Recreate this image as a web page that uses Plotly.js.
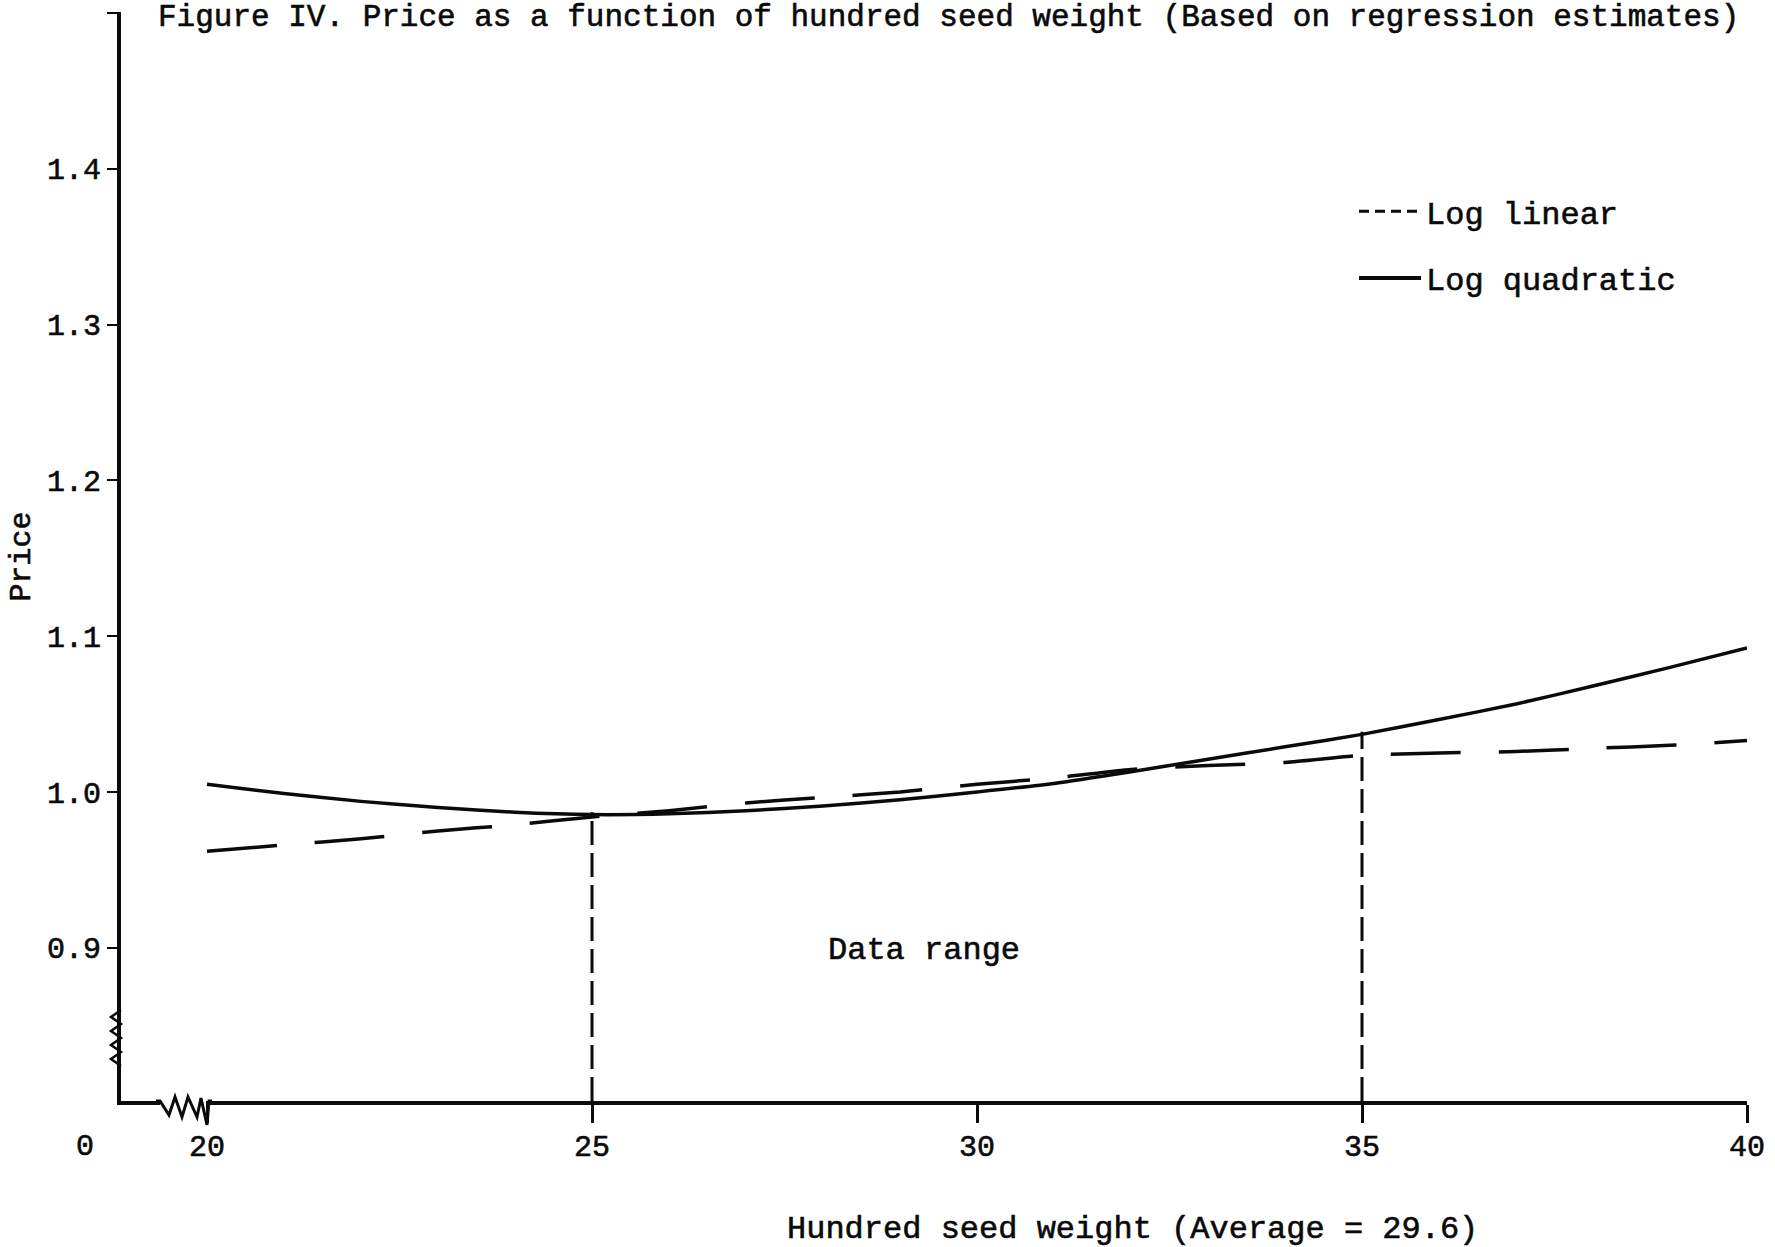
<!DOCTYPE html>
<html><head><meta charset="utf-8">
<script src="https://cdn.plot.ly/plotly-3.0.1.min.js"></script>
<style>
html,body{margin:0;padding:0;background:#fff;}
#chart svg text{stroke:#0a0a0a !important;stroke-width:0.6px !important;}
</style>
</head><body><div id="chart" style="width:1775px;height:1247px;"></div>
<script>
// ---- data ----
const seedWeight   = [20, 21, 22, 23, 24, 25, 26, 27, 28, 29, 30, 31, 32, 33, 34, 35, 36, 37, 38, 39, 40];
const logQuadratic = [1.005, 0.999, 0.994, 0.990, 0.987, 0.9855, 0.986, 0.988, 0.991, 0.995, 1.000, 1.0055, 1.013, 1.021, 1.029, 1.037, 1.0465, 1.0565, 1.068, 1.080, 1.0925];
const logLinear    = [0.962, 0.966, 0.970, 0.975, 0.979, 0.984, 0.988, 0.993, 0.9965, 1.000, 1.005, 1.009, 1.0145, 1.017, 1.019, 1.0235, 1.025, 1.026, 1.028, 1.030, 1.033];
const rangeBounds  = [25, 35];          // data range limits (hundred seed weight)
const rangeTops    = [0.987, 1.0387];   // where the vertical range lines end
const yTickVals = [0.9, 1.0, 1.1, 1.2, 1.3, 1.4, 1.5];
const yTickText = ['0.9', '1.0', '1.1', '1.2', '1.3', '1.4', ''];
const xTickVals = [20, 25, 30, 35, 40];
const xTickText = ['20', '25', '30', '35', '40'];
const seriesNames = ['Log linear', 'Log quadratic'];

// ---- layout constants ----
const W = 1775, H = 1247;
const M = {l: 121, r: 28, t: 12, b: 146, autoexpand: false};
const xRange = [18.883, 40];
const yRange = [0.8017, 1.5006];
const FONT = 'Liberation Mono, Courier New, monospace';
const INK = '#0a0a0a';

const traces = [
  {x: seedWeight, y: logLinear, mode: 'lines', name: seriesNames[0], showlegend: false,
   line: {color: INK, width: 3.5, dash: '70px,38px', shape: 'spline', smoothing: 0.6}, hoverinfo: 'skip'},
  {x: seedWeight, y: logQuadratic, mode: 'lines', name: seriesNames[1], showlegend: false,
   line: {color: INK, width: 3.5, shape: 'spline', smoothing: 0.6}, hoverinfo: 'skip'},
  // legend entries
  {x: [null], y: [null], mode: 'lines', name: seriesNames[0], legendgroup: 'a',
   line: {color: INK, width: 3, dash: '10px,6px'}},
  {x: [null], y: [null], mode: 'lines', name: seriesNames[1], legendgroup: 'b',
   line: {color: INK, width: 4}}
];
rangeBounds.forEach((b, i) => {
  traces.push({x: [b, b], y: [yRange[0], rangeTops[i]], mode: 'lines', showlegend: false,
    hoverinfo: 'skip', line: {color: INK, width: 3, dash: '24px,8px'}});
});

const pxX = px => (px - M.l) / (W - M.l - M.r);
const pxY = py => (H - M.b - py) / (H - M.t - M.b);

const shapes = [
  // axis break on x axis: cover then zigzag
  {type: 'line', xref: 'paper', yref: 'paper', x0: pxX(160), x1: pxX(206), y0: 0, y1: 0,
   layer: 'above', line: {color: '#fff', width: 8}},
  {type: 'path', xref: 'paper', yref: 'paper', xsizemode: 'pixel', ysizemode: 'pixel',
   xanchor: pxX(156), yanchor: 0, layer: 'above',
   path: 'M0,0 L4,0 L13,-14 L19,4 L26,-16 L32,4 L41,-16 L45,3 L51,-24 L53,0 L56,0',
   line: {color: INK, width: 3}},
  // axis break on y axis
  {type: 'path', xref: 'paper', yref: 'paper', xsizemode: 'pixel', ysizemode: 'pixel',
   xanchor: 0, yanchor: pxY(1010), layer: 'above',
   path: 'M0,0 L-10,-7 L0,-14 L-10,-21 L0,-28 L-10,-35 L0,-42 L-10,-49 L0,-56',
   line: {color: INK, width: 2.5}}
];

const layout = {
  width: W, height: H, margin: M,
  paper_bgcolor: '#fff', plot_bgcolor: '#fff',
  font: {family: FONT, color: INK, size: 30},
  showlegend: true,
  hovermode: false,
  title: {text: 'Figure IV. Price as a function of hundred seed weight (Based on regression estimates)',
    font: {family: FONT, size: 31, color: INK},
    xref: 'container', x: 158 / W, xanchor: 'left', yref: 'container', y: 1 - 15 / H, yanchor: 'middle'},
  xaxis: {range: xRange, showgrid: false, zeroline: false, showline: true, linecolor: INK, linewidth: 4,
    tickvals: xTickVals, ticktext: xTickText, ticks: 'outside', ticklen: 18, tickwidth: 3, tickcolor: INK,
    ticklabelstandoff: -3, tickfont: {family: FONT, size: 30, color: INK}},
  yaxis: {range: yRange, showgrid: false, zeroline: false, showline: true, linecolor: INK, linewidth: 4,
    tickvals: yTickVals, ticktext: yTickText, ticks: 'outside', ticklen: 10, tickwidth: 2, tickcolor: INK,
    tickfont: {family: FONT, size: 30, color: INK},
    title: {text: 'Price', font: {family: FONT, size: 30, color: INK}, standoff: 8}},
  legend: {xref: 'paper', yref: 'paper', x: pxX(1354), y: pxY(184), xanchor: 'left', yanchor: 'top',
    font: {family: FONT, size: 32, color: INK}, bgcolor: 'rgba(0,0,0,0)', itemwidth: 62,
    traceorder: 'grouped', tracegroupgap: 22},
  annotations: [
    {text: 'Data range', xref: 'x', yref: 'y', x: 29.31, y: 0.898, showarrow: false,
     xanchor: 'center', yanchor: 'middle', font: {family: FONT, size: 32, color: INK}},
    {text: 'Hundred seed weight (Average = 29.6)', xref: 'paper', yref: 'paper',
     x: pxX(1132), y: pxY(1229), xanchor: 'center', yanchor: 'middle', showarrow: false,
     font: {family: FONT, size: 32, color: INK}},
    {text: '0', xref: 'paper', yref: 'paper', x: pxX(85), y: pxY(1147), xanchor: 'center', yanchor: 'middle',
     showarrow: false, font: {family: FONT, size: 30, color: INK}}
  ],
  shapes: shapes
};

Plotly.newPlot('chart', traces, layout, {displayModeBar: false, staticPlot: true});
</script>
</body></html>
